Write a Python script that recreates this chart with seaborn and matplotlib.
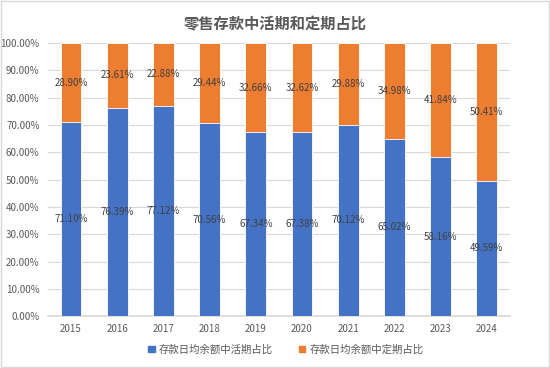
import seaborn as sns
import pandas as pd
import matplotlib.pyplot as plt
from matplotlib.patches import Patch

years = ["2015", "2016", "2017", "2018", "2019", "2020", "2021", "2022", "2023", "2024"]
demand = [71.10, 76.39, 77.12, 70.56, 67.34, 67.38, 70.12, 65.02, 58.16, 49.59]
fixed = [28.90, 23.61, 22.88, 29.44, 32.66, 32.62, 29.88, 34.98, 41.84, 50.41]
series_names = ["存款日均余额中活期占比", "存款日均余额中定期占比"]

sns.set_theme(style="white")
plt.rcParams['font.family'] = ['Noto Sans CJK SC', 'DejaVu Sans']

blue = "#4472C4"
orange = "#ED7D31"

df = pd.DataFrame({"year": years, "demand": demand, "fixed": fixed})
df["total"] = df["demand"] + df["fixed"]

fig = plt.figure(figsize=(5.5, 3.68), dpi=100)
ax = fig.add_axes([0.087, 0.141, 0.84, 0.742])

sns.barplot(data=df, x="year", y="total", color=orange, width=0.45,
            saturation=1, edgecolor="white", linewidth=0.6, ax=ax, zorder=3)
sns.barplot(data=df, x="year", y="demand", color=blue, width=0.45,
            saturation=1, edgecolor="white", linewidth=0.6, ax=ax, zorder=4)

for i, (d, f) in enumerate(zip(demand, fixed)):
    ax.text(i, d / 2, f"{d:.2f}%", ha="center", va="center",
            fontsize=7, color="#404040", zorder=5)
    ax.text(i, d + f / 2, f"{f:.2f}%", ha="center", va="center",
            fontsize=7, color="#404040", zorder=5)

ax.set_ylim(0, 100)
ax.set_yticks(range(0, 101, 10))
ax.set_yticklabels([f"{v:.2f}%" for v in range(0, 101, 10)])
ax.set_xlim(-0.5, len(years) - 0.5)
ax.yaxis.grid(True, color="#D9D9D9", linewidth=0.8, zorder=0)
ax.set_xlabel("")
ax.set_ylabel("")
ax.tick_params(axis="both", labelsize=7, colors="#595959", length=0, pad=6)
for side in ["top", "right", "left"]:
    ax.spines[side].set_visible(False)
ax.spines["bottom"].set_color("#D9D9D9")

fig.suptitle("零售存款中活期和定期占比", y=0.955, fontsize=11,
             fontweight="bold", color="#595959")

handles = [Patch(color=blue), Patch(color=orange)]
fig.legend(handles, series_names, loc="center", bbox_to_anchor=(0.52, 0.05),
           ncol=2, frameon=False, fontsize=7.5, labelcolor="#595959",
           handlelength=0.6, handleheight=0.6, handletextpad=0.4,
           columnspacing=2.5)

fig.patches.append(plt.Rectangle((0.002, 0.003), 0.996, 0.994,
                                 transform=fig.transFigure, fill=False,
                                 edgecolor="#D9D9D9", linewidth=1))

fig.savefig("out.png", dpi=100)
